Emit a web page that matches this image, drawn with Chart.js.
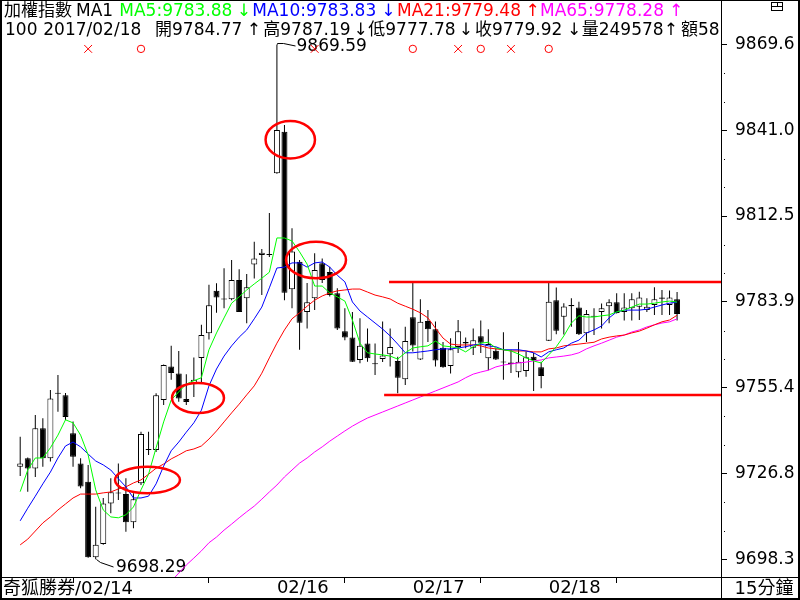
<!DOCTYPE html>
<html><head><meta charset="utf-8">
<script src="https://cdn.jsdelivr.net/npm/chart.js@4.4.1/dist/chart.umd.min.js"></script>
<style>html,body{margin:0;padding:0;background:#fff;}canvas{display:block;}</style>
</head><body>
<canvas id="c" width="800" height="600" style="width:800px;height:600px"></canvas>
<script>
// ---- data (15-minute bars, 加權指數) ----
const openP = [9729.1,9731.9,9728.5,9741.9,9731.9,9753.7,9752.9,9740.2,9730.2,9724.1,
9699.0,9703.4,9716.9,9720.2,9720.0,9710.6,9723.6,9734.7,9734.7,9751.3,
9762.4,9760.1,9751.6,9756.6,9765.3,9773.5,9787.6,9784.7,9784.8,9791.2,
9785.1,9796.4,9799.5,9799.6,9826.7,9840.5,9788.1,9797.3,9780.6,9785.1,
9796.8,9793.9,9786.8,9774.2,9772.1,9764.6,9770.1,9763.3,9764.9,9766.5,
9764.3,9758.2,9778.8,9764.8,9777.6,9774.8,9768.7,9762.6,9768.9,9770.6,
9768.7,9772.5,9765.2,9767.7,9763.8,9763.2,9760.5,9760.9,9765.7,9762.2,
9771.0,9784.5,9779.0,9782.9,9782.1,9773.5,9779.0,9780.6,9782.5,9783.8,
9780.6,9781.8,9782.3,9781.2,9782.9,9785.4,9782.9,9784.77];
const highP = [9739.1,9732.2,9746.3,9745.2,9754.6,9759.6,9753.6,9744.1,9731.9,9729.7,
9715.8,9718.7,9725.3,9730.2,9725.3,9720.3,9740.7,9740.7,9753.5,9763.1,
9769.3,9767.6,9759.9,9765.4,9776.3,9789.6,9790.1,9795.1,9797.9,9794.8,
9793.2,9803.9,9801.5,9813.5,9869.59,9842.8,9808.4,9797.9,9790.2,9800.1,
9798.4,9795.6,9788.5,9781.8,9780.6,9778.5,9775.1,9770.1,9777.4,9775.1,
9765.7,9775.7,9790.8,9784.8,9781.2,9777.4,9770.6,9771.8,9777.9,9772.1,
9775.1,9777.7,9774.8,9768.5,9773.8,9768.0,9770.6,9767.4,9766.9,9764.0,
9790.7,9788.7,9783.5,9785.1,9784.0,9781.2,9781.8,9783.4,9784.8,9786.8,
9786.8,9786.8,9787.3,9785.1,9788.8,9787.9,9787.7,9787.19];
const lowP = [9726.0,9720.8,9725.7,9729.1,9730.8,9747.4,9744.6,9729.1,9721.9,9698.8,
9698.29,9703.1,9713.6,9718.0,9707.5,9708.6,9723.0,9733.0,9734.0,9749.6,
9758.0,9750.7,9749.6,9752.3,9757.3,9771.4,9780.3,9781.8,9784.5,9780.6,
9776.8,9791.7,9786.2,9798.9,9826.6,9784.5,9781.8,9768.0,9775.1,9781.2,
9790.2,9785.7,9774.6,9771.2,9763.9,9763.5,9764.0,9759.6,9763.9,9762.4,
9753.5,9756.3,9767.4,9764.6,9770.6,9762.4,9762.0,9760.1,9766.9,9768.5,
9766.3,9766.9,9761.2,9764.6,9758.0,9760.3,9758.8,9759.0,9754.3,9755.2,
9770.9,9773.2,9773.1,9775.7,9772.9,9770.6,9772.9,9775.1,9776.8,9780.1,
9777.7,9777.7,9777.9,9780.6,9779.6,9779.6,9779.6,9777.78];
const closeP = [9730.2,9728.5,9741.9,9731.9,9751.8,9753.4,9745.6,9732.4,9722.5,9699.0,
9703.1,9716.9,9720.6,9720.4,9710.6,9718.3,9740.0,9734.8,9752.9,9762.9,
9760.3,9751.8,9750.6,9758.0,9772.9,9782.8,9785.4,9784.9,9791.2,9780.6,
9788.8,9798.4,9800.3,9799.5,9841.1,9787.0,9800.7,9777.0,9783.8,9794.5,
9791.2,9786.2,9775.1,9772.1,9764.0,9769.3,9765.2,9763.2,9766.1,9768.9,
9758.7,9770.9,9769.4,9777.3,9774.8,9764.4,9762.2,9768.2,9774.2,9770.1,
9771.2,9770.3,9769.9,9764.8,9763.9,9763.8,9764.0,9765.5,9764.6,9759.3,
9784.0,9774.3,9782.4,9782.5,9773.2,9779.9,9779.1,9781.8,9783.8,9780.2,
9782.1,9784.8,9785.4,9782.3,9784.8,9785.0,9785.4,9779.92];
const ma5 = [9720.8,9728.0,9732.0,9732.0,9735.4,9739.6,9744.7,9743.7,9739.6,9733.0,
9721.4,9714.7,9712.4,9712.1,9713.1,9715.7,9721.4,9726.6,9735.4,9744.0,
9751.3,9754.0,9756.6,9757.7,9758.7,9768.0,9773.6,9778.6,9783.5,9785.6,
9787.9,9789.9,9791.8,9793.8,9805.2,9805.2,9804.2,9800.6,9796.5,9789.2,
9789.2,9786.9,9785.6,9784.2,9777.9,9770.2,9767.0,9766.6,9766.3,9765.9,
9764.9,9767.0,9768.6,9769.0,9769.3,9770.9,9769.3,9769.0,9768.6,9767.3,
9769.0,9770.2,9770.5,9768.6,9768.0,9767.6,9766.6,9765.3,9764.3,9763.6,
9766.3,9769.0,9772.6,9776.9,9779.3,9778.9,9778.9,9779.3,9779.6,9780.6,
9781.2,9782.2,9783.2,9783.2,9783.5,9783.9,9784.2,9783.88];
const ma10 = [9711.1,9715.3,9719.3,9723.4,9727.3,9732.0,9736.0,9737.3,9735.7,9733.3,
9731.0,9729.7,9728.0,9725.1,9722.4,9718.7,9718.7,9719.3,9723.4,9729.3,
9734.4,9737.3,9740.6,9743.7,9747.9,9756.0,9761.6,9765.9,9769.3,9772.2,
9774.6,9778.3,9782.2,9788.6,9795.2,9795.5,9796.9,9796.9,9795.5,9796.9,
9797.2,9795.5,9792.8,9790.6,9783.9,9780.9,9778.9,9776.9,9774.9,9772.6,
9769.9,9767.0,9767.0,9767.3,9767.6,9768.0,9768.3,9768.3,9768.6,9769.0,
9769.6,9769.9,9769.3,9769.0,9768.0,9768.0,9768.0,9767.6,9767.0,9765.6,
9767.3,9768.0,9768.6,9770.2,9771.2,9773.6,9774.6,9775.9,9778.6,9780.6,
9781.2,9781.2,9781.2,9781.5,9782.2,9782.9,9783.5,9783.83];
const ma21 = [9703.1,9705.0,9707.7,9710.4,9712.4,9714.7,9716.7,9718.7,9720.0,9720.0,
9720.0,9720.4,9720.7,9721.7,9722.4,9723.7,9724.7,9726.6,9728.6,9730.0,
9731.7,9733.0,9734.4,9735.0,9736.0,9738.3,9741.0,9744.0,9747.0,9749.9,
9753.0,9756.0,9760.2,9765.3,9770.2,9774.6,9778.3,9780.3,9782.5,9784.5,
9785.9,9786.9,9787.6,9787.9,9788.2,9788.2,9787.2,9786.2,9785.6,9784.9,
9783.5,9782.5,9781.5,9780.3,9778.6,9775.2,9771.9,9769.9,9769.6,9769.6,
9769.6,9769.3,9768.6,9768.3,9768.0,9767.6,9767.6,9767.6,9767.3,9767.3,
9768.3,9768.6,9769.3,9769.6,9769.9,9770.2,9770.5,9771.6,9772.2,9772.6,
9772.9,9773.6,9774.2,9775.2,9776.3,9777.3,9777.9,9779.48];
const ma65 = [null,null,null,null,null,null,null,null,null,null,
null,null,null,null,null,null,null,null,null,9688.0,
9691.0,9693.7,9696.4,9698.7,9701.1,9703.8,9705.7,9708.0,9710.0,9712.1,
9714.1,9716.0,9718.3,9720.7,9723.0,9725.7,9728.0,9730.3,9732.0,9734.0,
9735.7,9737.6,9739.3,9741.0,9742.6,9744.0,9745.3,9746.3,9747.3,9748.3,
9749.3,9750.3,9751.3,9752.3,9753.3,9754.3,9755.3,9756.3,9757.3,9758.7,
9759.9,9760.6,9761.2,9762.3,9762.9,9763.3,9763.6,9763.9,9764.3,9764.6,
9765.3,9765.6,9765.9,9766.3,9767.0,9768.3,9769.3,9770.2,9771.2,9772.2,
9772.9,9773.9,9774.6,9775.6,9776.3,9776.9,9777.3,9778.28];
const yTickLabels = ['9698.3','9726.8','9755.4','9783.9','9812.5','9841.0','9869.6'];
const dayTickIdx = [16,34,52,70,88];
const dayTickLabels = ['','02/16','02/17','02/18',''];
const resistanceLevel = 9790.55, resistanceFromIdx = 48.85;
const supportLevel = 9752.96, supportFromIdx = 48.2;
const crossIdx = [9,39,58,65];
const circleIdx = [16,52,61,70];
const markerLevel = 9868.1;
// circled areas: centre (bar index, price), half-width in bars, half-height in points
const highlights = [
  {x:35.77, y:9837.89, rx:3.27, ry:6.22},
  {x:39.18, y:9797.87, rx:3.97, ry:6.09},
  {x:23.55, y:9751.96, rx:3.44, ry:4.99},
  {x:16.86, y:9724.68, rx:4.30, ry:4.42}
];
const highLabel = {idx:34, value:9869.59, text:'9869.59'};
const lowLabel = {idx:10, value:9698.29, text:'9698.29'};
const X_MIN = -2.41, X_MAX = 92.95, Y_MIN = 9692.41, Y_MAX = 9884.36;

const FONT = '"DejaVu Sans", "Noto Sans CJK TC", sans-serif';
const GREEN = '#00ff00', BLUE = '#0000ff', RED = '#ff0000', MAG = '#ff00ff';

const idx = openP.map((_, i) => i);
const series = arr => arr.map((v, i) => v == null ? null : {x: i, y: v}).filter(Boolean);

function txt(ctx, s, x, y, color, size, align) {
  ctx.font = size + 'px ' + FONT;
  ctx.fillStyle = color;
  ctx.textAlign = align || 'left';
  ctx.textBaseline = 'middle';
  ctx.fillText(s, x, y);
}

const overlay = {
  id: 'overlay',
  beforeDraw(chart) {
    const ctx = chart.ctx;
    ctx.save(); ctx.fillStyle = '#fff'; ctx.fillRect(0, 0, chart.width, chart.height); ctx.restore();
  },
  beforeDatasetsDraw(chart) {
    const ctx = chart.ctx, xs = chart.scales.x, ys = chart.scales.y;
    ctx.save();
    ctx.strokeStyle = '#000'; ctx.lineWidth = 1;
    let x = Math.round(xs.getPixelForValue(highLabel.idx)) + 0.5;
    let y = Math.round(ys.getPixelForValue(highLabel.value)) + 0.5;
    ctx.beginPath(); ctx.moveTo(x, y); ctx.lineTo(x, y - 1); ctx.lineTo(x + 6, y - 1); ctx.lineTo(x + 18, y + 1.5); ctx.stroke();
    txt(ctx, highLabel.text, x + 19, y + 2.5, '#000', 17);
    x = Math.round(xs.getPixelForValue(lowLabel.idx)) + 0.5;
    y = Math.round(ys.getPixelForValue(lowLabel.value)) + 0.5;
    ctx.beginPath(); ctx.moveTo(x, y); ctx.lineTo(x + 4, y + 3); ctx.lineTo(x + 17, y + 7.5); ctx.stroke();
    txt(ctx, lowLabel.text, x + 19.5, y + 8, '#000', 17);
    ctx.restore();
  },
  afterDatasetsDraw(chart) {
    const ctx = chart.ctx, xs = chart.scales.x, ys = chart.scales.y, a = chart.chartArea;
    ctx.save();
    ctx.beginPath(); ctx.rect(a.left, a.top, a.right - a.left, a.bottom - a.top); ctx.clip();
    ctx.strokeStyle = RED; ctx.lineWidth = 2.5;
    highlights.forEach(e => {
      const cx = xs.getPixelForValue(e.x), cy = ys.getPixelForValue(e.y);
      const rx = Math.abs(xs.getPixelForValue(e.x + e.rx) - cx);
      const ry = Math.abs(ys.getPixelForValue(e.y + e.ry) - cy);
      ctx.beginPath(); ctx.ellipse(cx, cy, rx, ry, 0, 0, Math.PI * 2); ctx.stroke();
    });
    ctx.restore();
  },
  afterDraw(chart) {
    const ctx = chart.ctx, ys = chart.scales.y;
    ctx.save();
    ctx.fillStyle = '#000';
    ctx.fillRect(0, 0, 800, 1);
    ctx.fillRect(0, 0, 2, 600);
    ctx.fillRect(798, 0, 2, 600);
    ctx.fillRect(0, 598, 800, 2);
    ctx.fillRect(0, 577, 800, 1);
    ctx.fillRect(721, 0, 1, 600);
    const tv = yTickLabels.map(parseFloat);
    for (let k = 0; k < tv.length - 1; k++) {
      for (let j = 1; j <= 2; j++) {
        const v = tv[k] + (tv[k + 1] - tv[k]) * j / 3;
        ctx.fillRect(724, Math.round(ys.getPixelForValue(v)), 1, 1);
      }
    }
    const l1 = [['加權指數', 4, '#000'], ['MA1', 76, '#000'], ['MA5:9783.88', 119.3, GREEN],
      ['MA10:9783.83', 252.3, BLUE], ['MA21:9779.48', 397, RED], ['MA65:9778.28', 540, MAG]];
    l1.forEach(s => txt(ctx, s[0], s[1], 12, s[2], 17));
    [['↓', 243.8, GREEN], ['↓', 388.3, BLUE], ['↑', 532.5, RED], ['↑', 676, MAG]]
      .forEach(s => txt(ctx, s[0], s[1], 12, s[2], 17, 'center'));
    const l2 = [['100', 5], ['2017/02/18', 43.3], ['開9784.77', 155], ['高9787.19', 263.3],
      ['低9777.78', 368.3], ['收9779.92', 475], ['量249578', 581.7], ['額58', 681]];
    l2.forEach(s => txt(ctx, s[0], s[1], 31, '#000', 17));
    [['↑', 253.8], ['↓', 360.5], ['↓', 465.8], ['↓', 574.2], ['↑', 670.8]]
      .forEach(s => txt(ctx, s[0], s[1], 31, '#000', 17, 'center'));
    txt(ctx, '奇狐勝券/02/14', 3, 589, '#000', 18);
    txt(ctx, '15分鐘', 764, 589, '#000', 18, 'center');
    ctx.strokeStyle = '#000'; ctx.lineWidth = 1;
    ctx.strokeRect(771.5, 2.5, 11, 8);
    ctx.beginPath(); ctx.moveTo(771.5, 6.5); ctx.lineTo(782.5, 6.5);
    ctx.moveTo(777.5, 2.5); ctx.lineTo(777.5, 6.5); ctx.stroke();
    ctx.restore();
  }
};

const lineDs = (label, arr, color, order) => ({
  type: 'line', label, data: series(arr), borderColor: color, borderWidth: 1,
  pointRadius: 0, tension: 0, fill: false, order
});
const noPad = s => { s.paddingTop = 0; s.paddingBottom = 0; s.paddingLeft = 0; s.paddingRight = 0; };

new Chart(document.getElementById('c'), {
  type: 'bar',
  data: {
    datasets: [
      { type: 'bar', label: 'wick', order: 10, grouped: false, barThickness: 1,
        data: idx.map(i => ({x: i, y: [lowP[i], highP[i]]})),
        backgroundColor: '#000', borderWidth: 0, inflateAmount: 0, minBarLength: 1 },
      { type: 'bar', label: 'body', order: 9, grouped: false, barThickness: 6,
        data: idx.map(i => ({x: i, y: [openP[i], closeP[i]]})),
        backgroundColor: idx.map(i => closeP[i] >= openP[i] ? '#fff' : '#000'),
        borderColor: '#000', borderWidth: 1, borderSkipped: false, inflateAmount: 0, minBarLength: 1 },
      lineDs('MA65', ma65, MAG, 8),
      lineDs('MA21', ma21, RED, 7),
      lineDs('MA10', ma10, BLUE, 6),
      lineDs('MA5', ma5, GREEN, 5),
      { type: 'line', label: 'resistance', order: 4, borderColor: RED, borderWidth: 2.5, pointRadius: 0,
        data: [{x: resistanceFromIdx, y: resistanceLevel}, {x: X_MAX, y: resistanceLevel}] },
      { type: 'line', label: 'support', order: 4, borderColor: RED, borderWidth: 2.5, pointRadius: 0,
        data: [{x: supportFromIdx, y: supportLevel}, {x: X_MAX, y: supportLevel}] },
      { type: 'scatter', label: 'cross', order: 3, pointStyle: 'crossRot', pointRadius: 5.5,
        borderColor: RED, borderWidth: 1, backgroundColor: 'rgba(0,0,0,0)',
        data: crossIdx.map(i => ({x: i, y: markerLevel})) },
      { type: 'scatter', label: 'circle', order: 3, pointStyle: 'circle', pointRadius: 3.7,
        borderColor: RED, borderWidth: 1, backgroundColor: 'rgba(0,0,0,0)',
        data: circleIdx.map(i => ({x: i, y: markerLevel})) }
    ]
  },
  options: {
    responsive: false, animation: false, devicePixelRatio: 1,
    layout: {autoPadding: false, padding: {left: 2, top: 0, right: 0, bottom: 0}},
    plugins: {legend: {display: false}, tooltip: {enabled: false}},
    scales: {
      x: {
        type: 'linear', position: 'bottom', min: X_MIN, max: X_MAX, offset: false,
        afterBuildTicks: s => { s.ticks = dayTickIdx.map(v => ({value: v})); },
        afterFit: s => { s.height = 23; noPad(s); },
        ticks: {callback: (v, i) => dayTickLabels[i], autoSkip: false, maxRotation: 0, align: 'start',
          font: {family: FONT, size: 18, lineHeight: 1}, color: '#000', padding: -4},
        grid: {drawOnChartArea: false, drawTicks: true, tickLength: 6, color: '#000'},
        border: {display: false}
      },
      y: {
        type: 'linear', position: 'right', min: Y_MIN, max: Y_MAX,
        afterBuildTicks: s => { s.ticks = yTickLabels.map(l => ({value: parseFloat(l)})); },
        afterFit: s => { s.width = 78; noPad(s); },
        ticks: {callback: (v, i) => yTickLabels[i], autoSkip: false,
          font: {family: FONT, size: 17}, color: '#000', padding: 8},
        grid: {drawOnChartArea: false, drawTicks: true, tickLength: 5, color: '#000'},
        border: {display: false}
      }
    }
  },
  plugins: [overlay]
});
</script>
</body></html>
